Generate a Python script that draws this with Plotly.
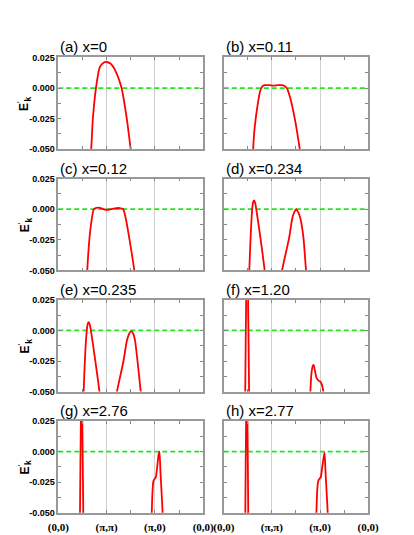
import plotly.graph_objects as go
from plotly.subplots import make_subplots

# k-path index: 0=(0,0), 1=(pi,pi), 2=(pi,0), 3=(0,0)
k_ticks = [0, 1, 2, 3]
k_labels = ["(0,0)", "(π,π)", "(π,0)", "(0,0)"]
k_minor = [0.5, 1.5, 2.5]
e_ticks = [0.025, 0.0, -0.025, -0.05]
e_labels = ["0.025", "0.000", "-0.025", "-0.050"]
e_minor = [0.0125, -0.0125, -0.0375]

titles = ["(a) x=0", "(b) x=0.11", "(c) x=0.12", "(d) x=0.234",
          "(e) x=0.235", "(f) x=1.20", "(g) x=2.76", "(h) x=2.77"]

# (a) x=0
k_a = [0.66, 0.68, 0.715, 0.78, 0.86, 0.93, 1.0, 1.08, 1.18, 1.31, 1.42, 1.50, 1.52]
e_a = [-0.055, -0.05, -0.0255, 0.0, 0.017, 0.0205, 0.0213, 0.0200, 0.0143, 0.0, -0.0255, -0.05, -0.055]

# (b) x=0.11
k_b = [0.60, 0.61, 0.64, 0.70, 0.755, 0.80, 0.85, 0.95, 1.03, 1.12, 1.22, 1.27, 1.31, 1.38, 1.49, 1.58, 1.60]
e_b = [-0.06, -0.05, -0.033, -0.0145, -0.0026, 0.0013, 0.0024, 0.0023, 0.0019, 0.0023, 0.0024, 0.0015,
       0.0, -0.008, -0.028, -0.05, -0.055]

# (c) x=0.12
k_c = [0.59, 0.60, 0.643, 0.69, 0.735, 0.79, 0.84, 0.92, 1.0, 1.08, 1.17, 1.25, 1.31, 1.345, 1.40, 1.476, 1.575, 1.59]
e_c = [-0.06, -0.05, -0.025, -0.009, 0.0, 0.0011, 0.0013, 0.0003, -0.0006, -0.0002, 0.0007, 0.001, 0.0005,
       0.0, -0.008, -0.025, -0.05, -0.055]

# (d) x=0.234
k_d = [0.52, 0.53, 0.557, 0.59, 0.61, 0.63, 0.65, 0.675, 0.76, 0.85, 0.87, None,
       1.19, 1.21, 1.36, 1.425, 1.47, 1.505, 1.54, 1.59, 1.655, 1.71, 1.73]
e_d = [-0.06, -0.05, -0.023, 0.0, 0.0058, 0.0072, 0.0055, 0.0, -0.023, -0.05, -0.058, None,
       -0.055, -0.05, -0.023, -0.0072, -0.002, 0.0, -0.002, -0.0072, -0.023, -0.05, -0.056]

# (e) x=0.235
k_e = [0.515, 0.525, 0.552, 0.59, 0.61, 0.63, 0.65, 0.675, 0.76, 0.853, 0.87, None,
       1.20, 1.215, 1.35, 1.42, 1.47, 1.51, 1.55, 1.59, 1.64, 1.707, 1.72]
e_e = [-0.06, -0.05, -0.023, 0.0, 0.0055, 0.0067, 0.005, 0.0, -0.023, -0.05, -0.057, None,
       -0.055, -0.05, -0.025, -0.0085, -0.0025, -0.0005, -0.0025, -0.0085, -0.025, -0.05, -0.055]

# (f) x=1.20
k_f = [0.443, 0.455, 0.47, 0.485, 0.50, 0.515, 0.528, None,
       1.785, 1.80, 1.82, 1.85, 1.87, 1.89, 1.93, 1.97, 2.01, 2.04, 2.07, 2.08]
e_f = [-0.06, -0.01, 0.04, 0.08, 0.04, -0.01, -0.06, None,
       -0.06, -0.05, -0.036, -0.029, -0.0283, -0.032, -0.039, -0.041, -0.042, -0.0445, -0.05, -0.053]

# (g) x=2.76
k_g = [0.447, 0.458, 0.472, 0.482, 0.493, 0.507, 0.52, None,
       1.92, 1.935, 1.95, 1.97, 2.00, 2.02, 2.05, 2.075, 2.095, 2.115, 2.14, 2.16, 2.17]
e_g = [-0.06, -0.01, 0.04, 0.08, 0.04, -0.01, -0.06, None,
       -0.06, -0.05, -0.033, -0.024, -0.022, -0.021, -0.012, -0.003, 0.0, -0.016, -0.034, -0.05, -0.058]

# (h) x=2.77
k_h = [0.445, 0.455, 0.468, 0.478, 0.488, 0.50, 0.51, None,
       1.915, 1.925, 1.94, 1.96, 1.99, 2.015, 2.045, 2.075, 2.095, 2.115, 2.14, 2.16, 2.17]
e_h = [-0.06, -0.01, 0.04, 0.08, 0.04, -0.01, -0.06, None,
       -0.06, -0.05, -0.033, -0.0246, -0.022, -0.021, -0.013, -0.005, -0.0008, -0.017, -0.035, -0.05, -0.058]

panels = [(k_a, e_a), (k_b, e_b), (k_c, e_c), (k_d, e_d),
          (k_e, e_e), (k_f, e_f), (k_g, e_g), (k_h, e_h)]

W, H = 414, 535
# pixel boxes of the panels inside the figure (page body adds 8px offset)
col_px = [(41.5, 194.5), (216.3, 368.7)]
row_top = [45.3, 168.8, 292.3, 415.8]
row_h = 93.5

fig = make_subplots(rows=4, cols=2)

for i, (ks, es) in enumerate(panels):
    r, c = divmod(i, 2)
    # Fermi level
    fig.add_trace(go.Scatter(x=[k_ticks[0], k_ticks[-1]], y=[0, 0], mode="lines",
                             line=dict(color="#22e622", width=1.8, dash="5px,3px"),
                             hoverinfo="skip", showlegend=False), row=r + 1, col=c + 1)
    fig.add_trace(go.Scatter(x=ks, y=es, mode="lines", connectgaps=False,
                             line=dict(color="red", width=1.8, shape="spline", smoothing=0.6),
                             showlegend=False), row=r + 1, col=c + 1)

    x0, x1 = col_px[c]
    top = row_top[r]
    fig.update_xaxes(domain=[x0 / W, x1 / W], range=[0, 3],
                     tickvals=k_ticks, ticktext=k_labels, showticklabels=(r == 3),
                     ticks="inside", ticklen=3, tickcolor="#888", mirror="ticks",
                     minor=dict(tickvals=k_minor, ticks="inside", ticklen=3, tickcolor="#888", showgrid=False),
                     showline=True, linecolor="#999", linewidth=1.5,
                     showgrid=True, gridcolor="#cfcfcf", gridwidth=1, zeroline=False,
                     ticklabelstandoff=3,
                     tickfont=dict(family="Liberation Serif", size=11, color="black", weight="bold"),
                     row=r + 1, col=c + 1)
    fig.update_yaxes(domain=[1 - (top + row_h) / H, 1 - top / H], range=[-0.05, 0.025],
                     tickvals=e_ticks, ticktext=e_labels, showticklabels=(c == 0),
                     ticks="inside", ticklen=3, tickcolor="#888", mirror="ticks",
                     minor=dict(tickvals=e_minor, ticks="inside", ticklen=3, tickcolor="#888", showgrid=False),
                     showline=True, linecolor="#999", linewidth=1.5,
                     showgrid=False, zeroline=False,
                     tickfont=dict(family="Liberation Sans", size=9, color="black", weight="bold"),
                     row=r + 1, col=c + 1)

    fig.add_annotation(text=titles[i], xref="paper", yref="paper",
                       x=x0 / W, y=1 - top / H, xanchor="left", yanchor="bottom",
                       showarrow=False, font=dict(family="Liberation Sans", size=15, color="black"))
    if c == 0:
        fig.add_annotation(text="<b>E</b><sup>'</sup><sub><b>k</b></sub>", xref="paper", yref="paper",
                           x=6 / W, y=1 - (top + row_h / 2) / H, xanchor="center", yanchor="middle",
                           textangle=-90, showarrow=False,
                           font=dict(family="Liberation Sans", size=12, color="black"))

fig.update_layout(width=W, height=H, margin=dict(l=0, r=0, t=0, b=0),
                  plot_bgcolor="white", paper_bgcolor="white", showlegend=False)

fig.write_html("out.html")
